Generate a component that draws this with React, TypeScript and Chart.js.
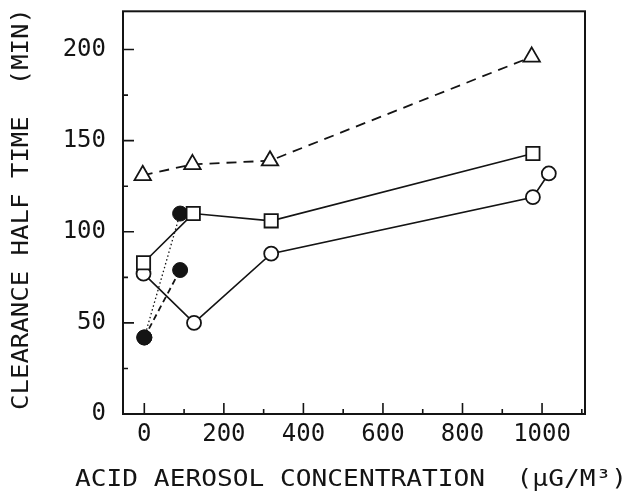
import React, { useEffect, useRef } from "react";
import { Chart, registerables } from "chart.js";

Chart.register(...registerables);

// Data
const xTriangle = [-4, 121, 316, 974];
const yTriangle = [131, 137, 139, 196];

const xSquare = [-2, 123, 319, 977];
const ySquare = [83, 110, 106, 143];

const xCircle = [-2, 125, 319, 977, 1017];
const yCircle = [77, 50, 88, 119, 132];

const xFilledDotted = [0, 90];
const yFilledDotted = [42, 110];

const xFilledDashed = [0, 90];
const yFilledDashed = [42, 79];

const xMajorTicks = [0, 200, 400, 600, 800, 1000];
const xMinorTicks = [100, 300, 500, 700, 900, 1100];
const yMajorTicks = [0, 50, 100, 150, 200];
const yMinorTicks = [25, 75, 125, 175];

const xTitle = "ACID AEROSOL CONCENTRATION  (\u00B5G/M\u00B3)";
const yTitle = "CLEARANCE HALF TIME  (MIN)";

const INK = "#141414";
const FONT = "'DejaVu Sans Mono', monospace";

const toPts = (xs: number[], ys: number[]) => xs.map((x, i) => ({ x, y: ys[i] }));

const framePlugin = {
  id: "frame",
  afterDatasetsDraw(chart: any) {
    const { ctx, chartArea: a, scales } = chart;
    const xs = scales.x;
    const ys = scales.y;
    ctx.save();
    ctx.strokeStyle = INK;
    ctx.lineWidth = 2;
    ctx.strokeRect(a.left, a.top, a.right - a.left, a.bottom - a.top);
    ctx.lineWidth = 1.6;
    ctx.beginPath();
    xMajorTicks.forEach((v) => {
      const p = xs.getPixelForValue(v);
      ctx.moveTo(p, a.bottom);
      ctx.lineTo(p, a.bottom - 11);
    });
    xMinorTicks.forEach((v) => {
      const p = xs.getPixelForValue(v);
      ctx.moveTo(p, a.bottom);
      ctx.lineTo(p, a.bottom - 5);
    });
    yMajorTicks.forEach((v) => {
      const p = ys.getPixelForValue(v);
      ctx.moveTo(a.left, p);
      ctx.lineTo(a.left + 11, p);
    });
    yMinorTicks.forEach((v) => {
      const p = ys.getPixelForValue(v);
      ctx.moveTo(a.left, p);
      ctx.lineTo(a.left + 5, p);
    });
    ctx.stroke();

    // axis titles
    ctx.fillStyle = INK;
    ctx.font = `23px ${FONT}`;
    ctx.textAlign = "center";
    ctx.textBaseline = "middle";
    const drawScaled = (text: string, cx: number, cy: number, target: number, rot: number) => {
      const w = ctx.measureText(text).width;
      ctx.save();
      ctx.translate(cx, cy);
      ctx.rotate(rot);
      ctx.scale(target / w, 1);
      ctx.fillText(text, 0, 0);
      ctx.restore();
    };
    drawScaled(xTitle, 351, 480, 552, 0);
    drawScaled(yTitle, 22, 209, 402, -Math.PI / 2);
    ctx.restore();
  },
};

export default function App() {
  const ref = useRef<HTMLCanvasElement>(null);

  useEffect(() => {
    document.body.style.margin = "0";
    const canvas = ref.current;
    if (!canvas) return;
    const chart = new Chart(canvas, {
      type: "scatter",
      data: {
        datasets: [
          {
            data: toPts(xTriangle, yTriangle),
            showLine: true,
            borderColor: INK,
            borderWidth: 1.8,
            borderDash: [10, 7],
            pointStyle: "triangle",
            pointRadius: 9.5,
            pointBorderWidth: 1.8,
            pointBorderColor: INK,
            pointBackgroundColor: "#ffffff",
          },
          {
            data: toPts(xSquare, ySquare),
            showLine: true,
            borderColor: INK,
            borderWidth: 1.6,
            pointStyle: "rect",
            pointRadius: 9.4,
            pointBorderWidth: 1.8,
            pointBorderColor: INK,
            pointBackgroundColor: "#ffffff",
          },
          {
            data: toPts(xCircle, yCircle),
            showLine: true,
            borderColor: INK,
            borderWidth: 1.6,
            pointStyle: "circle",
            pointRadius: 7,
            pointBorderWidth: 1.8,
            pointBorderColor: INK,
            pointBackgroundColor: "#ffffff",
          },
          {
            data: toPts(xFilledDotted, yFilledDotted),
            showLine: true,
            borderColor: INK,
            borderWidth: 1.3,
            borderDash: [1.5, 2.5],
            pointStyle: "circle",
            pointRadius: 7.5,
            pointBorderWidth: 1,
            pointBorderColor: INK,
            pointBackgroundColor: INK,
          },
          {
            data: toPts(xFilledDashed, yFilledDashed),
            showLine: true,
            borderColor: INK,
            borderWidth: 1.8,
            borderDash: [6, 4],
            pointStyle: "circle",
            pointRadius: 7.5,
            pointBorderWidth: 1,
            pointBorderColor: INK,
            pointBackgroundColor: INK,
          },
        ],
      },
      options: {
        responsive: false,
        animation: false,
        events: [],
        layout: { padding: { top: 8, right: 46, left: 0, bottom: 0 } },
        plugins: {
          legend: { display: false },
          tooltip: { enabled: false },
          title: { display: false },
        },
        scales: {
          x: {
            type: "linear",
            min: -53.6,
            max: 1108,
            afterBuildTicks: (s: any) => {
              s.ticks = xMajorTicks.map((v) => ({ value: v }));
            },
            afterFit: (s: any) => {
              s.height = 82;
              s.paddingLeft = 0;
              s.paddingRight = 0;
            },
            grid: { display: false, drawTicks: false },
            border: { display: false },
            ticks: {
              padding: 6,
              color: INK,
              font: { family: FONT, size: 24 },
              maxRotation: 0,
              autoSkip: false,
              callback: (v: any) => String(v),
            },
          },
          y: {
            type: "linear",
            min: 0,
            max: 221,
            afterBuildTicks: (s: any) => {
              s.ticks = yMajorTicks.map((v) => ({ value: v }));
            },
            afterFit: (s: any) => {
              s.width = 123;
              s.paddingTop = 0;
              s.paddingBottom = 0;
            },
            grid: { display: false, drawTicks: false },
            border: { display: false },
            ticks: {
              padding: 17,
              color: INK,
              font: { family: FONT, size: 24 },
              callback: (v: any) => String(v),
            },
          },
        },
      },
      plugins: [framePlugin],
    });
    return () => chart.destroy();
  }, []);

  return (
    <div style={{ width: 631, height: 496, position: "relative", background: "#fff" }}>
      <canvas ref={ref} width={631} height={496} style={{ width: 631, height: 496, display: "block" }} />
    </div>
  );
}
